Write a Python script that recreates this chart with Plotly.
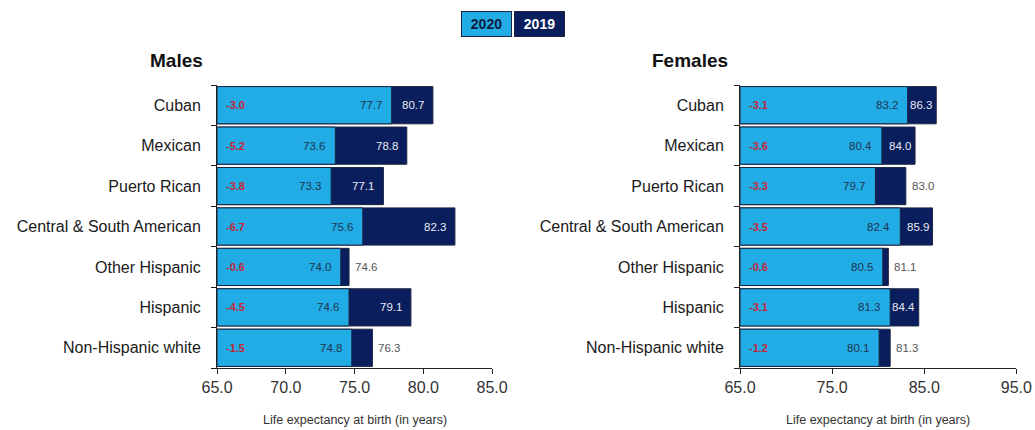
import plotly.graph_objects as go

categories = ["Cuban", "Mexican", "Puerto Rican", "Central & South American",
              "Other Hispanic", "Hispanic", "Non-Hispanic white"]
males_2020 = [77.7, 73.6, 73.3, 75.6, 74.0, 74.6, 74.8]
males_2019 = [80.7, 78.8, 77.1, 82.3, 74.6, 79.1, 76.3]
males_diff = ["-3.0", "-5.2", "-3.8", "-6.7", "-0.6", "-4.5", "-1.5"]
females_2020 = [83.2, 80.4, 79.7, 82.4, 80.5, 81.3, 80.1]
females_2019 = [86.3, 84.0, 83.0, 85.9, 81.1, 84.4, 81.3]
females_diff = ["-3.1", "-3.6", "-3.3", "-3.5", "-0.6", "-3.1", "-1.2"]
# placement of the 2019 label: inside the dark bar or outside it
males_2019_inside = [True, True, True, True, False, True, False]
females_2019_inside = [True, True, False, True, False, True, False]

LIGHT = "#22ACE6"
NAVY = "#0A1E5E"
EDGE = "#1B2440"
RED = "#C0283A"
FONT = "Liberation Sans, Arial, sans-serif"
BASE = 65

ypos = list(range(len(categories)))

fig = go.Figure()

panels = [
    ("x", "y", males_2020, males_2019, males_diff, males_2019_inside, -7),
    ("x2", "y2", females_2020, females_2019, females_diff, females_2019_inside, -2),
]

ann = []
for xa, ya, v20, v19, dif, inside, shift in panels:
    fig.add_trace(go.Bar(
        y=ypos, x=[v - BASE for v in v19], base=BASE, orientation="h",
        marker=dict(color=NAVY, line=dict(color=EDGE, width=1)),
        xaxis=xa, yaxis=ya, showlegend=False, hoverinfo="skip"))
    fig.add_trace(go.Bar(
        y=ypos, x=[v - BASE for v in v20], base=BASE, orientation="h",
        marker=dict(color=LIGHT, line=dict(color=EDGE, width=1)),
        xaxis=xa, yaxis=ya, showlegend=False, hoverinfo="skip"))
    for i in ypos:
        ann.append(dict(x=BASE, y=i, xref=xa, yref=ya, text=dif[i], showarrow=False,
                        xanchor="left", xshift=7,
                        font=dict(family=FONT, size=11, color=RED, weight="bold")))
        ann.append(dict(x=v20[i], y=i, xref=xa, yref=ya, text=f"{v20[i]:.1f}", showarrow=False,
                        xanchor="right", xshift=-8,
                        font=dict(family=FONT, size=11.5, color="#1F3550")))
        if inside[i]:
            ann.append(dict(x=v19[i], y=i, xref=xa, yref=ya, text=f"{v19[i]:.1f}", showarrow=False,
                            xanchor="right", xshift=shift,
                            font=dict(family=FONT, size=11.5, color="#E8EAF2")))
        else:
            ann.append(dict(x=v19[i], y=i, xref=xa, yref=ya, text=f"{v19[i]:.1f}", showarrow=False,
                            xanchor="left", xshift=4,
                            font=dict(family=FONT, size=11.5, color="#555555")))

# panel titles
ann.append(dict(x=0, y=1.088, xref="x domain", yref="paper", text="<b>Males</b>", showarrow=False,
                xanchor="right", yanchor="middle", xshift=-12,
                font=dict(family=FONT, size=19, color="#111111")))
ann.append(dict(x=0, y=1.088, xref="x2 domain", yref="paper", text="<b>Females</b>", showarrow=False,
                xanchor="right", yanchor="middle", xshift=-10,
                font=dict(family=FONT, size=19, color="#111111")))
# x axis titles
for xr in ["x domain", "x2 domain"]:
    ann.append(dict(x=0.5, y=-0.184, xref=xr, yref="paper",
                    text="Life expectancy at birth (in years)", showarrow=False,
                    xanchor="center", yanchor="middle",
                    font=dict(family=FONT, size=12.5, color="#333333")))
# legend boxes
ann.append(dict(x=486.5 / 1035, y=1.2155, xref="paper", yref="paper", text="<b>2020</b>",
                showarrow=False, xanchor="center", yanchor="middle", width=49, height=24,
                bgcolor=LIGHT, bordercolor=EDGE, borderwidth=1, borderpad=0,
                font=dict(family=FONT, size=14, color="#0D1B3A")))
ann.append(dict(x=539 / 1035, y=1.2155, xref="paper", yref="paper", text="<b>2019</b>",
                showarrow=False, xanchor="center", yanchor="middle", width=49, height=24,
                bgcolor=NAVY, bordercolor=EDGE, borderwidth=1, borderpad=0,
                font=dict(family=FONT, size=14, color="#FFFFFF")))

yax = dict(
    tickmode="array", tickvals=ypos, ticktext=categories, ticks="",
    range=[len(categories) - 0.5, -0.5], showline=True, linecolor="#222222", linewidth=1,
    showgrid=False, zeroline=False, ticklabelstandoff=12, automargin=False,
    tickfont=dict(family=FONT, size=16, color="#1A1A1A"),
    minor=dict(tickmode="array", tickvals=[i - 0.5 for i in ypos] + [len(categories) - 0.5],
               ticks="outside", ticklen=5, tickcolor="#222222", showgrid=False),
)
xcommon = dict(showline=True, linecolor="#222222", linewidth=1, ticks="outside", ticklen=5,
               tickcolor="#222222", showgrid=False, zeroline=False, tickformat=".1f",
               automargin=False, tick0=65,
               tickfont=dict(family=FONT, size=16, color="#333333"))

fig.update_layout(
    width=1035, height=430, margin=dict(l=0, r=0, t=85, b=62),
    paper_bgcolor="white", plot_bgcolor="white",
    barmode="overlay", bargap=0.08,
    xaxis=dict(domain=[0.2097, 0.4754], range=[65, 85], dtick=5, anchor="y", **xcommon),
    xaxis2=dict(domain=[0.715, 0.982], range=[65, 95], dtick=10, anchor="y2", **xcommon),
    yaxis=dict(anchor="x", **yax),
    yaxis2=dict(anchor="x2", **yax),
    annotations=ann,
)

fig.write_html("out.html")
